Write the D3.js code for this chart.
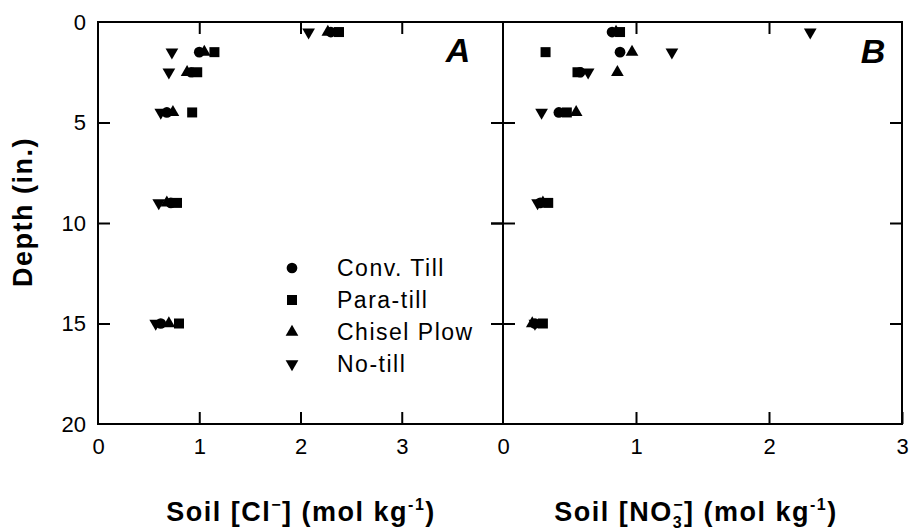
<!DOCTYPE html>
<html>
<head>
<meta charset="utf-8">
<script src="https://cdn.jsdelivr.net/npm/d3@7"></script>
<style>
  html, body { margin: 0; padding: 0; background: #fff; }
  svg { display: block; font-family: Arial, "Liberation Sans", Helvetica, sans-serif; }
  .axis path, .axis line { stroke: #000; stroke-width: 2; }
  .axis text { font-size: 22px; fill: #000; font-family: Arial, "Liberation Sans", sans-serif; }
</style>
</head>
<body>
<svg id="chart" width="912" height="532"></svg>
<script>
// ---- data ----
const depths = [0.5, 1.5, 2.5, 4.5, 9, 15];
const seriesNames = ["Conv. Till", "Para-till", "Chisel Plow", "No-till"];
// Panel A: Soil [Cl-] (mol kg-1)
const clConvTill   = [2.30, 1.00, 0.92, 0.68, 0.72, 0.62];
const clParaTill   = [2.38, 1.15, 0.98, 0.93, 0.78, 0.80];
const clChiselPlow = [2.27, 1.05, 0.88, 0.74, 0.68, 0.70];
const clNoTill     = [2.08, 0.73, 0.70, 0.62, 0.60, 0.57];
// Panel B: Soil [NO3-] (mol kg-1)
const no3ConvTill   = [0.82, 0.88, 0.58, 0.42, 0.28, 0.24];
const no3ParaTill   = [0.88, 0.32, 0.56, 0.48, 0.34, 0.30];
const no3ChiselPlow = [0.85, 0.97, 0.86, 0.55, 0.30, 0.22];
const no3NoTill     = [2.31, 1.27, 0.64, 0.29, 0.26, 0.24];
const yTicks = [0, 5, 10, 15, 20];
const xTicksA = [0, 1, 2, 3];
const xTicksB = [0, 1, 2, 3];

// ---- layout ----
const svg = d3.select("#chart");
const plotTop = 22, plotBottom = 424;
const y = d3.scaleLinear().domain([0, 20]).range([plotTop, plotBottom]);
const xA = d3.scaleLinear().domain([0, 4]).range([98, 503]);
const xB = d3.scaleLinear().domain([0, 3]).range([503, 902]);
const T = 12;

const symbolTypes = [d3.symbolCircle, d3.symbolSquare, d3.symbolTriangle, d3.symbolTriangle];
const symbolSizes = [90, 100, 70, 70];
const symbolRot = [0, 0, 0, 180];

function frame(x, xTicks, topTicks, leftLabels, leftCross) {
  const [x0, x1] = x.range();
  svg.append("rect").attr("x", x0).attr("y", plotTop).attr("width", x1 - x0).attr("height", plotBottom - plotTop)
    .attr("fill", "none").attr("stroke", "#000").attr("stroke-width", 2);
  svg.append("g").attr("class", "axis").attr("transform", `translate(0,${plotBottom})`)
    .call(d3.axisBottom(x).tickValues(xTicks).tickSize(-T).tickPadding(14).tickFormat(d3.format("d")))
    .call(g => g.select(".domain").remove())
    .call(g => g.selectAll("line").filter(d => d === 0).remove());
  svg.append("g").attr("class", "axis").attr("transform", `translate(0,${plotTop})`)
    .call(d3.axisTop(x).tickValues(topTicks).tickSize(-T).tickFormat(""))
    .call(g => g.select(".domain").remove());
  if (leftLabels) {
    svg.append("g").attr("class", "axis").attr("transform", `translate(${x0},0)`)
      .call(d3.axisLeft(y).tickValues(yTicks).tickSize(-T).tickPadding(12).tickFormat(d3.format("d")))
      .call(g => g.select(".domain").remove())
      .call(g => g.selectAll("line").filter(d => d === 0 || d === 20).remove());
  }
  if (leftCross) {
    svg.append("g").attr("class", "axis").attr("transform", `translate(${x0},0)`)
      .call(d3.axisLeft(y).tickValues([5, 10, 15]).tickSize(T).tickFormat(""))
      .call(g => g.select(".domain").remove());
    svg.append("g").attr("class", "axis").attr("transform", `translate(${x0},0)`)
      .call(d3.axisRight(y).tickValues([5, 10, 15]).tickSize(T).tickFormat(""))
      .call(g => g.select(".domain").remove());
  }
  svg.append("g").attr("class", "axis").attr("transform", `translate(${x1},0)`)
    .call(d3.axisRight(y).tickValues([5, 10, 15]).tickSize(-T).tickFormat(""))
    .call(g => g.select(".domain").remove());
}

frame(xA, xTicksA, [1, 2, 3], true, false);
frame(xB, xTicksB, [1, 2], false, true);

function plotSeries(x, arrays) {
  arrays.forEach((vals, si) => {
    svg.append("g").selectAll("path").data(vals).join("path")
      .attr("d", d3.symbol().type(symbolTypes[si]).size(symbolSizes[si]))
      .attr("transform", (v, i) => `translate(${x(v)},${y(depths[i])}) rotate(${symbolRot[si]})`)
      .attr("fill", "#000");
  });
}
plotSeries(xA, [clConvTill, clParaTill, clChiselPlow, clNoTill]);
plotSeries(xB, [no3ConvTill, no3ParaTill, no3ChiselPlow, no3NoTill]);

svg.append("text").attr("x", 458).attr("y", 62).attr("text-anchor", "middle")
  .attr("font-size", 34).attr("font-style", "italic").attr("font-weight", "bold").text("A");
svg.append("text").attr("x", 873).attr("y", 63).attr("text-anchor", "middle")
  .attr("font-size", 34).attr("font-style", "italic").attr("font-weight", "bold").text("B");

const legend = svg.append("g");
seriesNames.forEach((name, i) => {
  const ly = 268 + i * 32;
  legend.append("path")
    .attr("d", d3.symbol().type(symbolTypes[i]).size(symbolSizes[i]))
    .attr("transform", `translate(292,${ly}) rotate(${symbolRot[i]})`).attr("fill", "#000");
  legend.append("text").attr("x", 337).attr("y", ly).attr("dy", "0.36em")
    .attr("font-size", 23).attr("letter-spacing", 1.5).text(name);
});

svg.append("text").attr("transform", "translate(32,212) rotate(-90)")
  .attr("text-anchor", "middle").attr("font-size", 27).attr("font-weight", "bold")
  .attr("letter-spacing", 1.5).text("Depth (in.)");

const tA = svg.append("text").attr("x", 301).attr("y", 521).attr("text-anchor", "middle")
  .attr("font-size", 27).attr("font-weight", "bold").attr("letter-spacing", 1.5);
tA.append("tspan").text("Soil [Cl");
tA.append("tspan").attr("dy", -11).attr("font-size", 16).text("−");
tA.append("tspan").attr("dy", 11).text("] (mol kg");
tA.append("tspan").attr("dy", -11).attr("font-size", 16).text("-1");
tA.append("tspan").attr("dy", 11).text(")");

const tB = svg.append("text").attr("x", 696).attr("y", 521).attr("text-anchor", "middle")
  .attr("font-size", 27).attr("font-weight", "bold").attr("letter-spacing", 1.5);
tB.append("tspan").text("Soil [NO");
tB.append("tspan").attr("dy", 7).attr("font-size", 16).text("3");
tB.append("tspan").attr("dy", -18).attr("dx", -10).attr("font-size", 16).text("−");
tB.append("tspan").attr("dy", 11).text("] (mol kg");
tB.append("tspan").attr("dy", -11).attr("font-size", 16).text("-1");
tB.append("tspan").attr("dy", 11).text(")");
</script>
</body>
</html>
